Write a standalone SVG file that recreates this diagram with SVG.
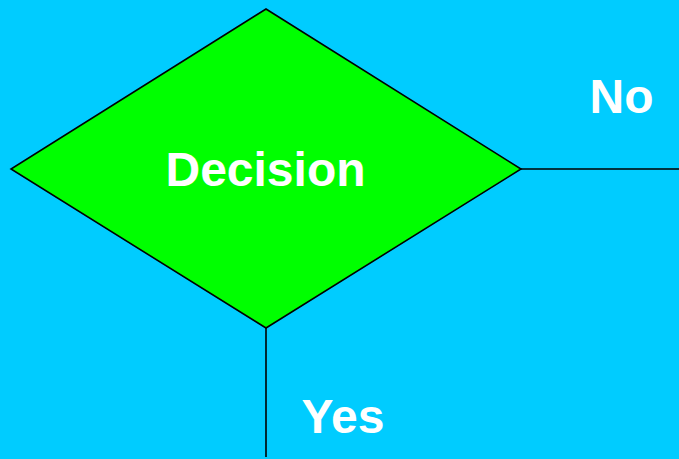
<svg xmlns="http://www.w3.org/2000/svg" width="679" height="459" viewBox="0 0 679 459">
  <style>
    .lbl { font-family: "Liberation Sans", Arial, sans-serif; font-weight: bold; font-size: 48px; fill: #FFFFFF; text-anchor: middle; }
    .edge { stroke: #000000; stroke-width: 1.6; fill: none; }
  </style>
  <rect x="0" y="0" width="679" height="459" fill="#00CCFF"/>
  <g id="connectors">
    <line class="edge" x1="521" y1="169" x2="679" y2="169"/>
    <line class="edge" x1="266" y1="328" x2="266" y2="457"/>
  </g>
  <g id="decision">
    <polygon points="266,9 521,169 266,328 11,169" fill="#00FF00" stroke="#000000" stroke-width="1.6" stroke-linejoin="miter"/>
    <text class="lbl" x="265.5" y="186">Decision</text>
  </g>
  <g id="label-no">
    <text class="lbl" x="621.5" y="113">No</text>
  </g>
  <g id="label-yes">
    <text class="lbl" x="343" y="433">Yes</text>
  </g>
</svg>
